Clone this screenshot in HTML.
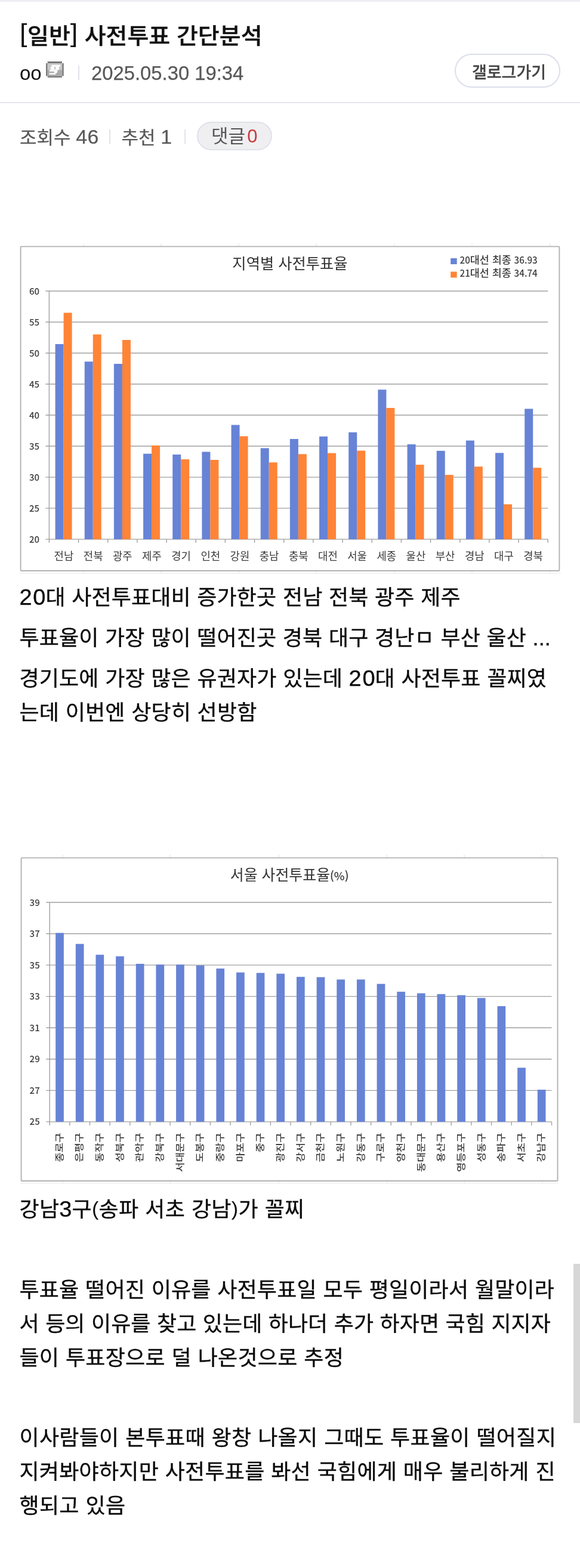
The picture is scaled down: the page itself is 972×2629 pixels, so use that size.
<!DOCTYPE html>
<html lang="ko">
<head>
<meta charset="utf-8">
<title>[일반] 사전투표 간단분석</title>
<style>
html,body{margin:0;padding:0;background:#fff;}
body{width:972px;height:2629px;position:relative;overflow:hidden;font-family:"Liberation Sans","Noto Sans CJK KR",sans-serif;color:#000;}
.abs{position:absolute;}
.topline{position:absolute;left:0;top:0;width:972px;height:3px;background:#eeeef4;}
.title{position:absolute;left:33px;top:33.8px;font-size:39px;font-weight:500;line-height:56px;white-space:nowrap;color:#111;-webkit-text-stroke:0.4px #111;transform:scaleY(0.96);transform-origin:0 50%;}
.br{letter-spacing:0.5px;-webkit-text-stroke:0;font-size:45px;position:relative;top:-5.5px;line-height:0;}
.nick{position:absolute;left:33px;top:97.5px;font-size:33px;line-height:50px;color:#111;}
.date{position:absolute;left:153px;top:97.5px;font-size:32.8px;line-height:50px;color:#585858;white-space:nowrap;-webkit-text-stroke:0.25px #585858;}
.vbar{position:absolute;width:2px;background:#e2e2ec;}
.btn{position:absolute;left:762px;top:89.5px;width:173px;height:53px;border:2.2px solid #dcdfea;border-radius:30px;font-size:27px;line-height:60px;text-indent:5px;-webkit-text-stroke:0.3px #444;text-align:center;color:#444;font-weight:500;white-space:nowrap;}
.divider{position:absolute;left:0;top:170.5px;width:972px;height:2.5px;background:#e6e6ef;}
.stat{position:absolute;top:205.5px;font-size:31px;line-height:50px;color:#585858;white-space:nowrap;-webkit-text-stroke:0.25px #585858;transform:scaleY(0.97);}
.stat .n2{font-size:34px;letter-spacing:0.4px;line-height:0;}
.cmt{position:absolute;left:329.5px;top:203.5px;width:122.5px;height:44.5px;border:2px solid #dfe1ec;border-radius:25px;background:#efeff1;font-size:31px;line-height:46px;text-align:center;color:#555;white-space:nowrap;}
.cmt b{font-weight:400;color:#c9383a;margin-left:3px;}
.bt{position:absolute;left:32.5px;font-size:36px;line-height:50px;white-space:nowrap;color:#0a0a0a;word-spacing:0.5px;-webkit-text-stroke:0.35px #0a0a0a;transform:scaleY(0.97);transform-origin:0 50%;}
.p{-webkit-text-stroke:0;font-size:34px;position:relative;top:-2px;line-height:0;}
.n{font-size:38px;letter-spacing:1.7px;margin-right:-1.7px;line-height:0;}
svg text{font-family:"Noto Sans CJK KR","Liberation Sans",sans-serif;}
.scroll{position:absolute;left:961px;top:2119px;width:11px;height:267px;background:#d7d7d7;}
</style>
</head>
<body>
<div class="topline"></div>
<div class="title"><span class="br">[</span>일반<span class="br">]</span> 사전투표 간단분석</div>
<div class="nick">oo</div>
<svg class="abs" style="left:77.3px;top:102.8px;filter:blur(0.4px)" width="30" height="27.2" viewBox="0 0 30 27.2">
<rect x="2.52" y="3.03" width="24.71" height="11.09" fill="#c8c8c8"/>
<rect x="2.52" y="14.12" width="24.71" height="10.34" fill="#ababab"/>
<rect x="2.77" y="0.00" width="24.21" height="3.03" fill="#7a7a7a"/>
<rect x="2.77" y="24.46" width="24.21" height="2.52" fill="#7a7a7a"/>
<rect x="0.00" y="3.03" width="2.52" height="21.43" fill="#7a7a7a"/>
<rect x="27.23" y="3.03" width="2.52" height="21.43" fill="#7a7a7a"/>
<rect x="9.33" y="5.80" width="14.62" height="3.03" fill="#fff"/>
<rect x="7.82" y="8.83" width="6.15" height="5.55" fill="#fff"/>
<rect x="16.29" y="8.83" width="5.65" height="5.55" fill="#fff"/>
<rect x="13.97" y="13.26" width="2.32" height="1.11" fill="#fff"/>
<rect x="5.80" y="14.37" width="13.62" height="2.52" fill="#fff"/>
<rect x="13.62" y="16.89" width="5.30" height="2.52" fill="#fff"/>
<rect x="5.55" y="19.42" width="10.84" height="2.52" fill="#fff"/>
</svg>
<div class="vbar" style="left:131px;top:110px;height:24px"></div>
<div class="date">2025.05.30 19:34</div>
<div class="btn">갤로그가기</div>
<div class="divider"></div>
<div class="stat" style="left:33px">조회수 <span class="n2">46</span></div>
<div class="vbar" style="left:183px;top:217px;height:24px"></div>
<div class="stat" style="left:203.5px">추천 <span class="n2">1</span></div>
<div class="vbar" style="left:308.5px;top:217px;height:24px"></div>
<div class="cmt">댓글<b>0</b></div>
<svg class="abs" style="left:0;top:0" width="972" height="2629" viewBox="0 0 972 2629">
<g id="chart1" style="filter:blur(0.45px)">
<line x1="33" y1="961.2" x2="940" y2="961.2" stroke="#ededf2" stroke-width="1.3"/>
<line x1="140" y1="957" x2="140" y2="961.5" stroke="#e6e6ec" stroke-width="1.3"/>
<line x1="140" y1="408" x2="140" y2="413" stroke="#e6e6ec" stroke-width="1.3"/>
<line x1="270" y1="957" x2="270" y2="961.5" stroke="#e6e6ec" stroke-width="1.3"/>
<line x1="270" y1="408" x2="270" y2="413" stroke="#e6e6ec" stroke-width="1.3"/>
<line x1="400" y1="957" x2="400" y2="961.5" stroke="#e6e6ec" stroke-width="1.3"/>
<line x1="400" y1="408" x2="400" y2="413" stroke="#e6e6ec" stroke-width="1.3"/>
<line x1="530" y1="957" x2="530" y2="961.5" stroke="#e6e6ec" stroke-width="1.3"/>
<line x1="530" y1="408" x2="530" y2="413" stroke="#e6e6ec" stroke-width="1.3"/>
<line x1="661" y1="957" x2="661" y2="961.5" stroke="#e6e6ec" stroke-width="1.3"/>
<line x1="661" y1="408" x2="661" y2="413" stroke="#e6e6ec" stroke-width="1.3"/>
<line x1="791" y1="957" x2="791" y2="961.5" stroke="#e6e6ec" stroke-width="1.3"/>
<line x1="791" y1="408" x2="791" y2="413" stroke="#e6e6ec" stroke-width="1.3"/>
<line x1="922" y1="957" x2="922" y2="961.5" stroke="#e6e6ec" stroke-width="1.3"/>
<line x1="922" y1="408" x2="922" y2="413" stroke="#e6e6ec" stroke-width="1.3"/>
<rect x="34.6" y="413.4" width="902.8" height="543.6" rx="1" fill="#fff" stroke="#b2b2b2" stroke-width="1.9"/>
<line x1="76.4" y1="904.10" x2="918.2" y2="904.10" stroke="#a0a0a0" stroke-width="1.4"/>
<text x="66" y="909.60" font-size="15" font-weight="500" text-anchor="end" fill="#3c3c3c">20</text>
<line x1="76.4" y1="852.09" x2="918.2" y2="852.09" stroke="#a0a0a0" stroke-width="1.4"/>
<text x="66" y="857.59" font-size="15" font-weight="500" text-anchor="end" fill="#3c3c3c">25</text>
<line x1="76.4" y1="800.08" x2="918.2" y2="800.08" stroke="#a0a0a0" stroke-width="1.4"/>
<text x="66" y="805.58" font-size="15" font-weight="500" text-anchor="end" fill="#3c3c3c">30</text>
<line x1="76.4" y1="748.06" x2="918.2" y2="748.06" stroke="#a0a0a0" stroke-width="1.4"/>
<text x="66" y="753.56" font-size="15" font-weight="500" text-anchor="end" fill="#3c3c3c">35</text>
<line x1="76.4" y1="696.05" x2="918.2" y2="696.05" stroke="#a0a0a0" stroke-width="1.4"/>
<text x="66" y="701.55" font-size="15" font-weight="500" text-anchor="end" fill="#3c3c3c">40</text>
<line x1="76.4" y1="644.04" x2="918.2" y2="644.04" stroke="#a0a0a0" stroke-width="1.4"/>
<text x="66" y="649.54" font-size="15" font-weight="500" text-anchor="end" fill="#3c3c3c">45</text>
<line x1="76.4" y1="592.02" x2="918.2" y2="592.02" stroke="#a0a0a0" stroke-width="1.4"/>
<text x="66" y="597.52" font-size="15" font-weight="500" text-anchor="end" fill="#3c3c3c">50</text>
<line x1="76.4" y1="540.01" x2="918.2" y2="540.01" stroke="#a0a0a0" stroke-width="1.4"/>
<text x="66" y="545.51" font-size="15" font-weight="500" text-anchor="end" fill="#3c3c3c">55</text>
<line x1="76.4" y1="488.00" x2="918.2" y2="488.00" stroke="#a0a0a0" stroke-width="1.4"/>
<text x="66" y="493.50" font-size="15" font-weight="500" text-anchor="end" fill="#3c3c3c">60</text>
<line x1="82.4" y1="488.0" x2="82.4" y2="910.1" stroke="#a0a0a0" stroke-width="1.4"/>
<line x1="131.56" y1="904.1" x2="131.56" y2="910.1" stroke="#a0a0a0" stroke-width="1.4"/>
<rect x="92.58" y="576.94" width="14.0" height="327.16" fill="#6783d6"/>
<rect x="106.58" y="524.41" width="14.0" height="379.69" fill="#ff8437"/>
<text x="106.98" y="938.8" font-size="17.8" text-anchor="middle" fill="#3c3c3c">전남</text>
<line x1="180.73" y1="904.1" x2="180.73" y2="910.1" stroke="#a0a0a0" stroke-width="1.4"/>
<rect x="141.75" y="606.28" width="14.0" height="297.82" fill="#6783d6"/>
<rect x="155.75" y="560.71" width="14.0" height="343.39" fill="#ff8437"/>
<text x="156.15" y="938.8" font-size="17.8" text-anchor="middle" fill="#3c3c3c">전북</text>
<line x1="229.89" y1="904.1" x2="229.89" y2="910.1" stroke="#a0a0a0" stroke-width="1.4"/>
<rect x="190.91" y="610.02" width="14.0" height="294.08" fill="#6783d6"/>
<rect x="204.91" y="569.97" width="14.0" height="334.13" fill="#ff8437"/>
<text x="205.31" y="938.8" font-size="17.8" text-anchor="middle" fill="#3c3c3c">광주</text>
<line x1="279.06" y1="904.1" x2="279.06" y2="910.1" stroke="#a0a0a0" stroke-width="1.4"/>
<rect x="240.08" y="760.75" width="14.0" height="143.35" fill="#6783d6"/>
<rect x="254.08" y="746.92" width="14.0" height="157.18" fill="#ff8437"/>
<text x="254.48" y="938.8" font-size="17.8" text-anchor="middle" fill="#3c3c3c">제주</text>
<line x1="328.22" y1="904.1" x2="328.22" y2="910.1" stroke="#a0a0a0" stroke-width="1.4"/>
<rect x="289.24" y="762.11" width="14.0" height="141.99" fill="#6783d6"/>
<rect x="303.24" y="770.12" width="14.0" height="133.98" fill="#ff8437"/>
<text x="303.64" y="938.8" font-size="17.8" text-anchor="middle" fill="#3c3c3c">경기</text>
<line x1="377.39" y1="904.1" x2="377.39" y2="910.1" stroke="#a0a0a0" stroke-width="1.4"/>
<rect x="338.41" y="757.53" width="14.0" height="146.57" fill="#6783d6"/>
<rect x="352.41" y="771.05" width="14.0" height="133.05" fill="#ff8437"/>
<text x="352.81" y="938.8" font-size="17.8" text-anchor="middle" fill="#3c3c3c">인천</text>
<line x1="426.55" y1="904.1" x2="426.55" y2="910.1" stroke="#a0a0a0" stroke-width="1.4"/>
<rect x="387.57" y="712.49" width="14.0" height="191.61" fill="#6783d6"/>
<rect x="401.57" y="731.42" width="14.0" height="172.68" fill="#ff8437"/>
<text x="401.97" y="938.8" font-size="17.8" text-anchor="middle" fill="#3c3c3c">강원</text>
<line x1="475.72" y1="904.1" x2="475.72" y2="910.1" stroke="#a0a0a0" stroke-width="1.4"/>
<rect x="436.74" y="751.39" width="14.0" height="152.71" fill="#6783d6"/>
<rect x="450.74" y="775.32" width="14.0" height="128.78" fill="#ff8437"/>
<text x="451.14" y="938.8" font-size="17.8" text-anchor="middle" fill="#3c3c3c">충남</text>
<line x1="524.88" y1="904.1" x2="524.88" y2="910.1" stroke="#a0a0a0" stroke-width="1.4"/>
<rect x="485.90" y="736.00" width="14.0" height="168.10" fill="#6783d6"/>
<rect x="499.90" y="761.38" width="14.0" height="142.72" fill="#ff8437"/>
<text x="500.30" y="938.8" font-size="17.8" text-anchor="middle" fill="#3c3c3c">충북</text>
<line x1="574.05" y1="904.1" x2="574.05" y2="910.1" stroke="#a0a0a0" stroke-width="1.4"/>
<rect x="535.06" y="731.83" width="14.0" height="172.27" fill="#6783d6"/>
<rect x="549.06" y="759.71" width="14.0" height="144.39" fill="#ff8437"/>
<text x="549.46" y="938.8" font-size="17.8" text-anchor="middle" fill="#3c3c3c">대전</text>
<line x1="623.21" y1="904.1" x2="623.21" y2="910.1" stroke="#a0a0a0" stroke-width="1.4"/>
<rect x="584.23" y="724.86" width="14.0" height="179.24" fill="#6783d6"/>
<rect x="598.23" y="755.55" width="14.0" height="148.55" fill="#ff8437"/>
<text x="598.63" y="938.8" font-size="17.8" text-anchor="middle" fill="#3c3c3c">서울</text>
<line x1="672.38" y1="904.1" x2="672.38" y2="910.1" stroke="#a0a0a0" stroke-width="1.4"/>
<rect x="633.39" y="653.30" width="14.0" height="250.80" fill="#6783d6"/>
<rect x="647.39" y="683.98" width="14.0" height="220.12" fill="#ff8437"/>
<text x="647.79" y="938.8" font-size="17.8" text-anchor="middle" fill="#3c3c3c">세종</text>
<line x1="721.54" y1="904.1" x2="721.54" y2="910.1" stroke="#a0a0a0" stroke-width="1.4"/>
<rect x="682.56" y="744.94" width="14.0" height="159.16" fill="#6783d6"/>
<rect x="696.56" y="779.17" width="14.0" height="124.93" fill="#ff8437"/>
<text x="696.96" y="938.8" font-size="17.8" text-anchor="middle" fill="#3c3c3c">울산</text>
<line x1="770.71" y1="904.1" x2="770.71" y2="910.1" stroke="#a0a0a0" stroke-width="1.4"/>
<rect x="731.72" y="755.86" width="14.0" height="148.24" fill="#6783d6"/>
<rect x="745.72" y="796.23" width="14.0" height="107.87" fill="#ff8437"/>
<text x="746.12" y="938.8" font-size="17.8" text-anchor="middle" fill="#3c3c3c">부산</text>
<line x1="819.87" y1="904.1" x2="819.87" y2="910.1" stroke="#a0a0a0" stroke-width="1.4"/>
<rect x="780.89" y="738.60" width="14.0" height="165.50" fill="#6783d6"/>
<rect x="794.89" y="782.29" width="14.0" height="121.81" fill="#ff8437"/>
<text x="795.29" y="938.8" font-size="17.8" text-anchor="middle" fill="#3c3c3c">경남</text>
<line x1="869.04" y1="904.1" x2="869.04" y2="910.1" stroke="#a0a0a0" stroke-width="1.4"/>
<rect x="830.05" y="759.40" width="14.0" height="144.70" fill="#6783d6"/>
<rect x="844.05" y="845.53" width="14.0" height="58.57" fill="#ff8437"/>
<text x="844.45" y="938.8" font-size="17.8" text-anchor="middle" fill="#3c3c3c">대구</text>
<line x1="918.20" y1="904.1" x2="918.20" y2="910.1" stroke="#a0a0a0" stroke-width="1.4"/>
<rect x="879.22" y="685.44" width="14.0" height="218.66" fill="#6783d6"/>
<rect x="893.22" y="784.26" width="14.0" height="119.84" fill="#ff8437"/>
<text x="893.62" y="938.8" font-size="17.8" text-anchor="middle" fill="#3c3c3c">경북</text>
<text x="486" y="450.5" font-size="25.3" text-anchor="middle" fill="#333">지역별 사전투표율</text>
<rect x="755.2" y="433" width="10.5" height="10" fill="#6783d6"/>
<rect x="755.2" y="455.5" width="10.5" height="10" fill="#ff8437"/>
<text x="770.5" y="441.5" font-size="15.2" font-weight="500" fill="#3c3c3c">20<tspan font-size="17.4">대선 최종 </tspan>36.93</text>
<text x="770.5" y="464" font-size="15.2" font-weight="500" fill="#3c3c3c">21<tspan font-size="17.4">대선 최종 </tspan>34.74</text>
</g>
<g id="chart2" style="filter:blur(0.45px)">
<line x1="34" y1="1984.2" x2="937" y2="1984.2" stroke="#f1f1f5" stroke-width="1.3"/>
<line x1="105" y1="1980" x2="105" y2="1984.5" stroke="#e6e6ec" stroke-width="1.3"/>
<line x1="105" y1="1433" x2="105" y2="1438" stroke="#e6e6ec" stroke-width="1.3"/>
<line x1="285" y1="1980" x2="285" y2="1984.5" stroke="#e6e6ec" stroke-width="1.3"/>
<line x1="285" y1="1433" x2="285" y2="1438" stroke="#e6e6ec" stroke-width="1.3"/>
<line x1="467.5" y1="1980" x2="467.5" y2="1984.5" stroke="#e6e6ec" stroke-width="1.3"/>
<line x1="467.5" y1="1433" x2="467.5" y2="1438" stroke="#e6e6ec" stroke-width="1.3"/>
<line x1="648.5" y1="1980" x2="648.5" y2="1984.5" stroke="#e6e6ec" stroke-width="1.3"/>
<line x1="648.5" y1="1433" x2="648.5" y2="1438" stroke="#e6e6ec" stroke-width="1.3"/>
<line x1="778" y1="1980" x2="778" y2="1984.5" stroke="#e6e6ec" stroke-width="1.3"/>
<line x1="778" y1="1433" x2="778" y2="1438" stroke="#e6e6ec" stroke-width="1.3"/>
<line x1="908.5" y1="1980" x2="908.5" y2="1984.5" stroke="#e6e6ec" stroke-width="1.3"/>
<line x1="908.5" y1="1433" x2="908.5" y2="1438" stroke="#e6e6ec" stroke-width="1.3"/>
<rect x="35.6" y="1438.4" width="898.9" height="541.6" rx="1" fill="#fff" stroke="#b2b2b2" stroke-width="1.9"/>
<line x1="77.2" y1="1880.90" x2="924.5" y2="1880.90" stroke="#a0a0a0" stroke-width="1.4"/>
<text x="66.7" y="1886.40" font-size="15" font-weight="500" text-anchor="end" fill="#3c3c3c">25</text>
<line x1="77.2" y1="1828.34" x2="924.5" y2="1828.34" stroke="#a0a0a0" stroke-width="1.4"/>
<text x="66.7" y="1833.84" font-size="15" font-weight="500" text-anchor="end" fill="#3c3c3c">27</text>
<line x1="77.2" y1="1775.79" x2="924.5" y2="1775.79" stroke="#a0a0a0" stroke-width="1.4"/>
<text x="66.7" y="1781.29" font-size="15" font-weight="500" text-anchor="end" fill="#3c3c3c">29</text>
<line x1="77.2" y1="1723.23" x2="924.5" y2="1723.23" stroke="#a0a0a0" stroke-width="1.4"/>
<text x="66.7" y="1728.73" font-size="15" font-weight="500" text-anchor="end" fill="#3c3c3c">31</text>
<line x1="77.2" y1="1670.67" x2="924.5" y2="1670.67" stroke="#a0a0a0" stroke-width="1.4"/>
<text x="66.7" y="1676.17" font-size="15" font-weight="500" text-anchor="end" fill="#3c3c3c">33</text>
<line x1="77.2" y1="1618.11" x2="924.5" y2="1618.11" stroke="#a0a0a0" stroke-width="1.4"/>
<text x="66.7" y="1623.61" font-size="15" font-weight="500" text-anchor="end" fill="#3c3c3c">35</text>
<line x1="77.2" y1="1565.56" x2="924.5" y2="1565.56" stroke="#a0a0a0" stroke-width="1.4"/>
<text x="66.7" y="1571.06" font-size="15" font-weight="500" text-anchor="end" fill="#3c3c3c">37</text>
<line x1="77.2" y1="1513.00" x2="924.5" y2="1513.00" stroke="#a0a0a0" stroke-width="1.4"/>
<text x="66.7" y="1518.50" font-size="15" font-weight="500" text-anchor="end" fill="#3c3c3c">39</text>
<line x1="83.2" y1="1513.0" x2="83.2" y2="1886.9" stroke="#a0a0a0" stroke-width="1.4"/>
<line x1="116.85" y1="1880.9" x2="116.85" y2="1886.9" stroke="#a0a0a0" stroke-width="1.4"/>
<rect x="93.18" y="1564.24" width="13.7" height="316.66" fill="#6783d6"/>
<text transform="translate(104.83,1899.4) rotate(-90) scale(1.115,0.95)" font-size="16" font-weight="500" text-anchor="end" fill="#3c3c3c">종로구</text>
<line x1="150.50" y1="1880.9" x2="150.50" y2="1886.9" stroke="#a0a0a0" stroke-width="1.4"/>
<rect x="126.83" y="1582.64" width="13.7" height="298.26" fill="#6783d6"/>
<text transform="translate(138.48,1899.4) rotate(-90) scale(1.115,0.95)" font-size="16" font-weight="500" text-anchor="end" fill="#3c3c3c">은평구</text>
<line x1="184.16" y1="1880.9" x2="184.16" y2="1886.9" stroke="#a0a0a0" stroke-width="1.4"/>
<rect x="160.48" y="1600.77" width="13.7" height="280.13" fill="#6783d6"/>
<text transform="translate(172.13,1899.4) rotate(-90) scale(1.115,0.95)" font-size="16" font-weight="500" text-anchor="end" fill="#3c3c3c">동작구</text>
<line x1="217.81" y1="1880.9" x2="217.81" y2="1886.9" stroke="#a0a0a0" stroke-width="1.4"/>
<rect x="194.13" y="1603.40" width="13.7" height="277.50" fill="#6783d6"/>
<text transform="translate(205.78,1899.4) rotate(-90) scale(1.115,0.95)" font-size="16" font-weight="500" text-anchor="end" fill="#3c3c3c">성북구</text>
<line x1="251.46" y1="1880.9" x2="251.46" y2="1886.9" stroke="#a0a0a0" stroke-width="1.4"/>
<rect x="227.78" y="1616.01" width="13.7" height="264.89" fill="#6783d6"/>
<text transform="translate(239.43,1899.4) rotate(-90) scale(1.115,0.95)" font-size="16" font-weight="500" text-anchor="end" fill="#3c3c3c">관악구</text>
<line x1="285.11" y1="1880.9" x2="285.11" y2="1886.9" stroke="#a0a0a0" stroke-width="1.4"/>
<rect x="261.44" y="1617.33" width="13.7" height="263.57" fill="#6783d6"/>
<text transform="translate(273.09,1899.4) rotate(-90) scale(1.115,0.95)" font-size="16" font-weight="500" text-anchor="end" fill="#3c3c3c">강북구</text>
<line x1="318.76" y1="1880.9" x2="318.76" y2="1886.9" stroke="#a0a0a0" stroke-width="1.4"/>
<rect x="295.09" y="1617.33" width="13.7" height="263.57" fill="#6783d6"/>
<text transform="translate(306.74,1899.4) rotate(-90) scale(1.115,0.95)" font-size="16" font-weight="500" text-anchor="end" fill="#3c3c3c">서대문구</text>
<line x1="352.42" y1="1880.9" x2="352.42" y2="1886.9" stroke="#a0a0a0" stroke-width="1.4"/>
<rect x="328.74" y="1618.64" width="13.7" height="262.26" fill="#6783d6"/>
<text transform="translate(340.39,1899.4) rotate(-90) scale(1.115,0.95)" font-size="16" font-weight="500" text-anchor="end" fill="#3c3c3c">도봉구</text>
<line x1="386.07" y1="1880.9" x2="386.07" y2="1886.9" stroke="#a0a0a0" stroke-width="1.4"/>
<rect x="362.39" y="1623.90" width="13.7" height="257.00" fill="#6783d6"/>
<text transform="translate(374.04,1899.4) rotate(-90) scale(1.115,0.95)" font-size="16" font-weight="500" text-anchor="end" fill="#3c3c3c">중랑구</text>
<line x1="419.72" y1="1880.9" x2="419.72" y2="1886.9" stroke="#a0a0a0" stroke-width="1.4"/>
<rect x="396.04" y="1630.47" width="13.7" height="250.43" fill="#6783d6"/>
<text transform="translate(407.69,1899.4) rotate(-90) scale(1.115,0.95)" font-size="16" font-weight="500" text-anchor="end" fill="#3c3c3c">마포구</text>
<line x1="453.37" y1="1880.9" x2="453.37" y2="1886.9" stroke="#a0a0a0" stroke-width="1.4"/>
<rect x="429.70" y="1631.25" width="13.7" height="249.65" fill="#6783d6"/>
<text transform="translate(441.35,1899.4) rotate(-90) scale(1.115,0.95)" font-size="16" font-weight="500" text-anchor="end" fill="#3c3c3c">중구</text>
<line x1="487.02" y1="1880.9" x2="487.02" y2="1886.9" stroke="#a0a0a0" stroke-width="1.4"/>
<rect x="463.35" y="1632.57" width="13.7" height="248.33" fill="#6783d6"/>
<text transform="translate(475.00,1899.4) rotate(-90) scale(1.115,0.95)" font-size="16" font-weight="500" text-anchor="end" fill="#3c3c3c">광진구</text>
<line x1="520.68" y1="1880.9" x2="520.68" y2="1886.9" stroke="#a0a0a0" stroke-width="1.4"/>
<rect x="497.00" y="1637.82" width="13.7" height="243.08" fill="#6783d6"/>
<text transform="translate(508.65,1899.4) rotate(-90) scale(1.115,0.95)" font-size="16" font-weight="500" text-anchor="end" fill="#3c3c3c">강서구</text>
<line x1="554.33" y1="1880.9" x2="554.33" y2="1886.9" stroke="#a0a0a0" stroke-width="1.4"/>
<rect x="530.65" y="1638.35" width="13.7" height="242.55" fill="#6783d6"/>
<text transform="translate(542.30,1899.4) rotate(-90) scale(1.115,0.95)" font-size="16" font-weight="500" text-anchor="end" fill="#3c3c3c">금천구</text>
<line x1="587.98" y1="1880.9" x2="587.98" y2="1886.9" stroke="#a0a0a0" stroke-width="1.4"/>
<rect x="564.30" y="1642.29" width="13.7" height="238.61" fill="#6783d6"/>
<text transform="translate(575.95,1899.4) rotate(-90) scale(1.115,0.95)" font-size="16" font-weight="500" text-anchor="end" fill="#3c3c3c">노원구</text>
<line x1="621.63" y1="1880.9" x2="621.63" y2="1886.9" stroke="#a0a0a0" stroke-width="1.4"/>
<rect x="597.96" y="1642.29" width="13.7" height="238.61" fill="#6783d6"/>
<text transform="translate(609.61,1899.4) rotate(-90) scale(1.115,0.95)" font-size="16" font-weight="500" text-anchor="end" fill="#3c3c3c">강동구</text>
<line x1="655.28" y1="1880.9" x2="655.28" y2="1886.9" stroke="#a0a0a0" stroke-width="1.4"/>
<rect x="631.61" y="1649.65" width="13.7" height="231.25" fill="#6783d6"/>
<text transform="translate(643.26,1899.4) rotate(-90) scale(1.115,0.95)" font-size="16" font-weight="500" text-anchor="end" fill="#3c3c3c">구로구</text>
<line x1="688.94" y1="1880.9" x2="688.94" y2="1886.9" stroke="#a0a0a0" stroke-width="1.4"/>
<rect x="665.26" y="1662.79" width="13.7" height="218.11" fill="#6783d6"/>
<text transform="translate(676.91,1899.4) rotate(-90) scale(1.115,0.95)" font-size="16" font-weight="500" text-anchor="end" fill="#3c3c3c">양천구</text>
<line x1="722.59" y1="1880.9" x2="722.59" y2="1886.9" stroke="#a0a0a0" stroke-width="1.4"/>
<rect x="698.91" y="1665.42" width="13.7" height="215.48" fill="#6783d6"/>
<text transform="translate(710.56,1899.4) rotate(-90) scale(1.115,0.95)" font-size="16" font-weight="500" text-anchor="end" fill="#3c3c3c">동대문구</text>
<line x1="756.24" y1="1880.9" x2="756.24" y2="1886.9" stroke="#a0a0a0" stroke-width="1.4"/>
<rect x="732.56" y="1666.73" width="13.7" height="214.17" fill="#6783d6"/>
<text transform="translate(744.21,1899.4) rotate(-90) scale(1.115,0.95)" font-size="16" font-weight="500" text-anchor="end" fill="#3c3c3c">용산구</text>
<line x1="789.89" y1="1880.9" x2="789.89" y2="1886.9" stroke="#a0a0a0" stroke-width="1.4"/>
<rect x="766.22" y="1668.57" width="13.7" height="212.33" fill="#6783d6"/>
<text transform="translate(777.87,1899.4) rotate(-90) scale(1.115,0.95)" font-size="16" font-weight="500" text-anchor="end" fill="#3c3c3c">영등포구</text>
<line x1="823.54" y1="1880.9" x2="823.54" y2="1886.9" stroke="#a0a0a0" stroke-width="1.4"/>
<rect x="799.87" y="1673.30" width="13.7" height="207.60" fill="#6783d6"/>
<text transform="translate(811.52,1899.4) rotate(-90) scale(1.115,0.95)" font-size="16" font-weight="500" text-anchor="end" fill="#3c3c3c">성동구</text>
<line x1="857.20" y1="1880.9" x2="857.20" y2="1886.9" stroke="#a0a0a0" stroke-width="1.4"/>
<rect x="833.52" y="1686.96" width="13.7" height="193.94" fill="#6783d6"/>
<text transform="translate(845.17,1899.4) rotate(-90) scale(1.115,0.95)" font-size="16" font-weight="500" text-anchor="end" fill="#3c3c3c">송파구</text>
<line x1="890.85" y1="1880.9" x2="890.85" y2="1886.9" stroke="#a0a0a0" stroke-width="1.4"/>
<rect x="867.17" y="1790.24" width="13.7" height="90.66" fill="#6783d6"/>
<text transform="translate(878.82,1899.4) rotate(-90) scale(1.115,0.95)" font-size="16" font-weight="500" text-anchor="end" fill="#3c3c3c">서초구</text>
<line x1="924.50" y1="1880.9" x2="924.50" y2="1886.9" stroke="#a0a0a0" stroke-width="1.4"/>
<rect x="900.82" y="1827.03" width="13.7" height="53.87" fill="#6783d6"/>
<text transform="translate(912.47,1899.4) rotate(-90) scale(1.115,0.95)" font-size="16" font-weight="500" text-anchor="end" fill="#3c3c3c">강남구</text>
<text x="385.8" y="1475.5" font-size="24.9" fill="#333">서울 사전투표율<tspan font-size="19" font-weight="500">(%)</tspan></text>
</g>
</svg>
<div class="bt" id="l0" style="top:977px;letter-spacing:0.115px"><span class="n">20</span>대 사전투표대비 증가한곳 전남 전북 광주 제주</div>
<div class="bt" id="l1" style="top:1045px;letter-spacing:0.120px">투표율이 가장 많이 떨어진곳 경북 대구 경난ㅁ 부산 울산 ...</div>
<div class="bt" id="l2" style="top:1113px;letter-spacing:0.138px">경기도에 가장 많은 유권자가 있는데 <span class="n">20</span>대 사전투표 꼴찌였</div>
<div class="bt" id="l3" style="top:1170px;letter-spacing:0.150px">는데 이번엔 상당히 선방함</div>
<div class="bt" id="l4" style="top:2003px;letter-spacing:0.307px">강남<span class="n">3</span>구<span class="p">(</span>송파 서초 강남<span class="p">)</span>가 꼴찌</div>
<div class="bt" id="l5" style="top:2138px;letter-spacing:0.180px">투표율 떨어진 이유를 사전투표일 모두 평일이라서 월말이라</div>
<div class="bt" id="l6" style="top:2195px;letter-spacing:0.030px">서 등의 이유를 찾고 있는데 하나더 추가 하자면 국힘 지지자</div>
<div class="bt" id="l7" style="top:2252px;letter-spacing:0.250px">들이 투표장으로 덜 나온것으로 추정</div>
<div class="bt" id="l8" style="top:2386px;letter-spacing:0.275px">이사람들이 본투표때 왕창 나올지 그때도 투표율이 떨어질지</div>
<div class="bt" id="l9" style="top:2443px;letter-spacing:0.235px">지켜봐야하지만 사전투표를 봐선 국힘에게 매우 불리하게 진</div>
<div class="bt" id="l10" style="top:2500px;letter-spacing:0.300px">행되고 있음</div>
<div class="scroll"></div>
</body>
</html>
